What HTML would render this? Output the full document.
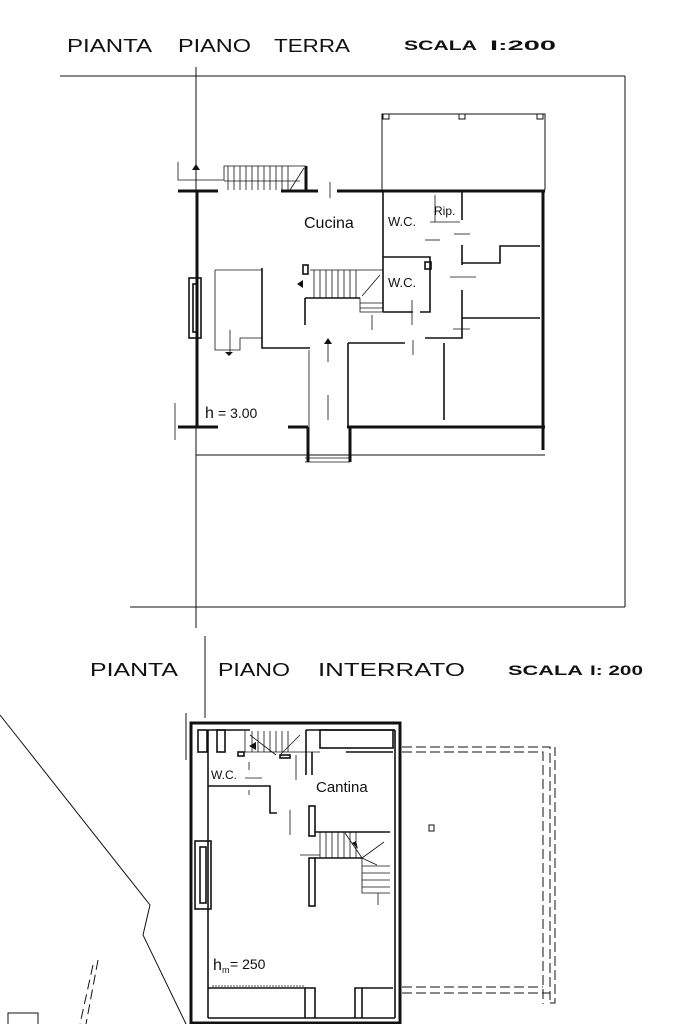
<!DOCTYPE html>
<html><head><meta charset="utf-8"><style>
html,body{margin:0;padding:0;background:#fff;width:683px;height:1024px;overflow:hidden}
svg{display:block}
text{font-family:"Liberation Sans",sans-serif;fill:#111}
</style></head><body>
<svg width="683" height="1024" viewBox="0 0 683 1024" xmlns="http://www.w3.org/2000/svg">
<text x="67" y="52" font-size="18" textLength="85" lengthAdjust="spacingAndGlyphs">PIANTA</text>
<text x="178" y="52" font-size="18" textLength="73" lengthAdjust="spacingAndGlyphs">PIANO</text>
<text x="274" y="52" font-size="18" textLength="76" lengthAdjust="spacingAndGlyphs">TERRA</text>
<text x="404" y="50" font-size="14" font-weight="bold" textLength="73" lengthAdjust="spacingAndGlyphs">SCALA</text>
<text x="490" y="50" font-size="14" font-weight="bold" textLength="66" lengthAdjust="spacingAndGlyphs">I:200</text>
<text x="90" y="676" font-size="18" textLength="88" lengthAdjust="spacingAndGlyphs">PIANTA</text>
<text x="218" y="676" font-size="18" textLength="72" lengthAdjust="spacingAndGlyphs">PIANO</text>
<text x="318" y="676" font-size="18" textLength="147" lengthAdjust="spacingAndGlyphs">INTERRATO</text>
<text x="508" y="675" font-size="14" font-weight="bold" textLength="75" lengthAdjust="spacingAndGlyphs">SCALA</text>
<text x="590" y="675" font-size="14" font-weight="bold" textLength="53" lengthAdjust="spacingAndGlyphs">I: 200</text>

<g fill="none" stroke="#111" stroke-width="1">
<line x1="60" y1="76" x2="625" y2="76"/>
<line x1="625" y1="76" x2="625" y2="607"/>
<line x1="130" y1="607" x2="625" y2="607"/>
<line x1="196" y1="67" x2="196" y2="628"/>
<line x1="205" y1="636" x2="205" y2="718"/>
<polyline points="382,190 382,114 545,114 545,190"/>
<rect x="383" y="114" width="6" height="5"/><rect x="459" y="114" width="6" height="5"/><rect x="537" y="114" width="6" height="5"/>
<line x1="196" y1="455" x2="545" y2="455"/>
</g>

<g fill="none" stroke="#111" stroke-width="3">
<line x1="178" y1="191" x2="218" y2="191"/>
<line x1="281" y1="191" x2="318" y2="191"/>
<line x1="337" y1="191" x2="545" y2="191"/>
<line x1="197" y1="191" x2="197" y2="427"/>
<line x1="543" y1="190" x2="543" y2="450"/>
<line x1="178" y1="427" x2="218" y2="427"/>
<line x1="288" y1="427" x2="308" y2="427"/>
<line x1="347" y1="427" x2="545" y2="427"/>
<line x1="308" y1="427" x2="308" y2="462"/>
<line x1="350" y1="427" x2="350" y2="462"/>
<line x1="306" y1="166" x2="306" y2="191"/>
</g>
<g fill="none" stroke="#111" stroke-width="1.6">
<rect x="189" y="278" width="12" height="60"/>
<rect x="193" y="284" width="4" height="48"/>
<line x1="383" y1="190" x2="383" y2="312"/>
<polyline points="383,257 430,257 430,312 420,312"/>
<line x1="383" y1="312" x2="413" y2="312"/>
<line x1="462" y1="190" x2="462" y2="220"/>
<line x1="462" y1="245" x2="462" y2="265"/>
<polyline points="462,263 500,263 500,246 540,246"/>
<line x1="462" y1="290" x2="462" y2="320"/>
<line x1="462" y1="318" x2="540" y2="318"/>
<polyline points="462,320 462,338 425,338"/>
<polyline points="348,343 405,343"/>
<line x1="444" y1="343" x2="444" y2="420"/>
<line x1="348" y1="343" x2="348" y2="427"/>
<polyline points="262,268 262,348 310,348"/>
<line x1="305" y1="298" x2="305" y2="325"/>
<line x1="305" y1="298" x2="360" y2="298"/>
<rect x="303" y="265" width="5" height="9"/>
<rect x="425" y="262" width="6" height="7"/>
</g>
<g fill="none" stroke="#111" stroke-width="0.8">
<polyline points="178,162 178,180 224,180 224,166 306,166"/>
<line x1="224" y1="181" x2="300" y2="181"/>
<line x1="228" y1="166" x2="228" y2="190"/><line x1="234" y1="166" x2="234" y2="190"/><line x1="240" y1="166" x2="240" y2="190"/><line x1="246" y1="166" x2="246" y2="190"/><line x1="252" y1="166" x2="252" y2="190"/><line x1="258" y1="166" x2="258" y2="190"/><line x1="264" y1="166" x2="264" y2="190"/><line x1="270" y1="166" x2="270" y2="190"/><line x1="276" y1="166" x2="276" y2="190"/><line x1="282" y1="166" x2="282" y2="190"/><line x1="288" y1="166" x2="288" y2="190"/>
<line x1="290" y1="190" x2="304" y2="168"/>
<polyline points="310,270 383,270 383,312 360,312 360,298"/>
<line x1="314" y1="270" x2="314" y2="298"/><line x1="320" y1="270" x2="320" y2="298"/><line x1="326" y1="270" x2="326" y2="298"/><line x1="332" y1="270" x2="332" y2="298"/><line x1="338" y1="270" x2="338" y2="298"/><line x1="344" y1="270" x2="344" y2="298"/><line x1="350" y1="270" x2="350" y2="298"/><line x1="356" y1="270" x2="356" y2="298"/>
<line x1="360" y1="303" x2="383" y2="303"/><line x1="360" y1="308" x2="383" y2="308"/>
<line x1="362" y1="296" x2="380" y2="275"/>
<line x1="372" y1="315" x2="372" y2="330"/>
<polyline points="215,270 262,270"/>
<polyline points="215,270 215,350 240,350 240,338 262,338"/>
<line x1="230" y1="330" x2="230" y2="355"/>
<line x1="309" y1="350" x2="309" y2="427"/>
<line x1="328" y1="340" x2="328" y2="362"/>
<line x1="328" y1="395" x2="328" y2="420"/>
<line x1="412" y1="300" x2="412" y2="325"/>
<line x1="413" y1="340" x2="413" y2="355"/>
<line x1="425" y1="240" x2="440" y2="240"/>
<line x1="454" y1="234" x2="470" y2="234"/>
<line x1="450" y1="277" x2="476" y2="277"/>
<line x1="453" y1="329" x2="470" y2="329"/>
<line x1="435" y1="195" x2="435" y2="222"/>
<line x1="430" y1="222" x2="460" y2="222"/>
<line x1="330" y1="182" x2="330" y2="198"/>
<line x1="305" y1="458" x2="350" y2="458"/>
<line x1="305" y1="462" x2="350" y2="462"/>
<line x1="175" y1="403" x2="175" y2="440"/>
</g>
<g fill="#111">
<polygon points="196,164 192,170 200,170"/>
<polygon points="297,284 303,280 303,288"/>
<polygon points="229,356 225,352 233,352"/>
<polygon points="328,338 324,344 332,344"/>
</g>
<text x="304" y="228" font-size="16">Cucina</text>
<text x="388" y="226" font-size="13">W.C.</text>
<text x="434" y="215" font-size="12">Rip.</text>
<text x="388" y="287" font-size="13">W.C.</text>
<text x="205" y="418" font-size="16">h</text>
<text x="218" y="418" font-size="14">= 3.00</text>

<g fill="none" stroke="#111" stroke-width="1">
<polyline points="0,715 150,905 143,935 186,1024"/>
<path d="M93,965 L80,1024 M98,960 L86,1024" stroke-dasharray="10,5"/>
<rect x="8" y="1013" width="30" height="14"/>
<path d="M402,747 L550,747 L550,1000 M402,752 L543,752 L543,1004 M402,987 L543,987 M402,993 L550,993 M550,1003 L555,1003 L555,747" stroke-dasharray="10,4"/>
<rect x="429" y="825" width="5" height="6"/>
<line x1="186" y1="713" x2="186" y2="760"/>
</g>
<g fill="none" stroke="#111" stroke-width="3">
<rect x="191" y="723" width="209" height="300"/>
</g>
<g fill="none" stroke="#111" stroke-width="1.6">
<line x1="208" y1="730" x2="208" y2="1018"/>
<line x1="208" y1="730" x2="250" y2="730"/>
<line x1="306" y1="730" x2="395" y2="730"/>
<line x1="395" y1="730" x2="395" y2="1018"/>
<line x1="208" y1="1018" x2="395" y2="1018"/>
<rect x="198" y="730" width="9" height="22"/>
<rect x="217" y="730" width="8" height="22"/>
<rect x="195" y="841" width="16" height="68"/>
<rect x="200" y="847" width="6" height="56"/>
<rect x="320" y="730" width="73" height="18"/>
<polyline points="346,752 393,752"/>
<line x1="306" y1="730" x2="306" y2="775"/>
<line x1="312" y1="752" x2="312" y2="775"/>
<polyline points="208,786 270,786 270,813 277,813"/>
<rect x="309" y="806" width="6" height="30"/>
<rect x="309" y="858" width="6" height="48"/>
<line x1="315" y1="832" x2="390" y2="832"/>
<line x1="315" y1="858" x2="362" y2="858"/>
<line x1="208" y1="988" x2="305" y2="988"/>
<polyline points="305,1018 305,988 315,988 315,1018"/>
<polyline points="355,1018 355,988 362,988 362,1018"/>
<line x1="362" y1="988" x2="393" y2="988"/>
<rect x="238" y="752" width="6" height="4"/>
<rect x="280" y="755" width="10" height="3"/>
</g>
<g fill="none" stroke="#111" stroke-width="0.8">
<line x1="238" y1="752" x2="320" y2="752"/>
<line x1="245" y1="731" x2="245" y2="752"/><line x1="252" y1="731" x2="252" y2="752"/><line x1="258" y1="731" x2="258" y2="752"/><line x1="264" y1="731" x2="264" y2="752"/><line x1="270" y1="731" x2="270" y2="752"/><line x1="276" y1="731" x2="276" y2="752"/><line x1="282" y1="731" x2="282" y2="752"/><line x1="288" y1="731" x2="288" y2="752"/>
<line x1="250" y1="735" x2="276" y2="755"/>
<line x1="280" y1="755" x2="300" y2="735"/>
<line x1="296" y1="755" x2="296" y2="780"/>
<line x1="249" y1="762" x2="249" y2="770"/><line x1="249" y1="790" x2="249" y2="795"/>
<line x1="245" y1="778" x2="262" y2="778"/>
<line x1="290" y1="810" x2="290" y2="835"/>
<line x1="320" y1="832" x2="320" y2="858"/><line x1="326" y1="832" x2="326" y2="858"/><line x1="332" y1="832" x2="332" y2="858"/><line x1="338" y1="832" x2="338" y2="858"/><line x1="344" y1="832" x2="344" y2="858"/><line x1="350" y1="832" x2="350" y2="858"/><line x1="356" y1="832" x2="356" y2="858"/>
<polyline points="362,858 362,893 390,893"/>
<line x1="362" y1="866" x2="390" y2="866"/><line x1="362" y1="873" x2="390" y2="873"/><line x1="362" y1="880" x2="390" y2="880"/><line x1="362" y1="887" x2="390" y2="887"/>
<line x1="345" y1="833" x2="362" y2="858"/><line x1="362" y1="858" x2="384" y2="842"/><line x1="362" y1="858" x2="377" y2="865"/>
<line x1="378" y1="893" x2="378" y2="905"/>
<line x1="300" y1="855" x2="320" y2="855"/>
<line x1="212" y1="986" x2="305" y2="986" stroke-dasharray="2,1"/>
</g>
<g fill="#111">
<polygon points="249,746 256,742 256,750"/>
<polygon points="358,849 352,843 356,841"/>
</g>
<text x="211" y="779" font-size="12">W.C.</text>
<text x="316" y="792" font-size="15">Cantina</text>
<text x="213" y="970" font-size="16">h</text>
<text x="222" y="973" font-size="9">m</text>
<text x="230" y="969" font-size="14">= 250</text>
</svg>
</body></html>
